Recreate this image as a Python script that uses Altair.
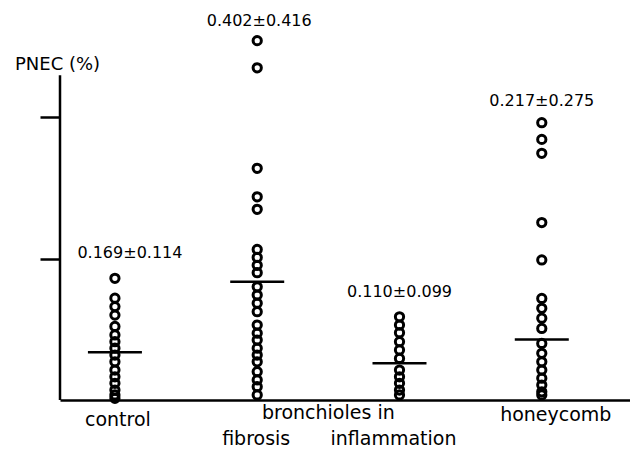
import altair as alt
import pandas as pd

# ---- data ----
groups = ["control", "fibrosis", "inflammation", "honeycomb"]
group_pos = [0, 1, 2, 3]

control_vals = [0.43, 0.36, 0.33, 0.30, 0.26, 0.23, 0.206, 0.183, 0.159, 0.135,
                0.106, 0.082, 0.059, 0.035, 0.018, 0.006]
fibrosis_vals = [1.27, 1.174, 0.819, 0.718, 0.674, 0.532, 0.504, 0.476, 0.450,
                 0.400, 0.371, 0.342, 0.312, 0.265, 0.236, 0.212, 0.183, 0.159,
                 0.135, 0.100, 0.071, 0.047, 0.018]
inflammation_vals = [0.294, 0.265, 0.238, 0.206, 0.177, 0.147, 0.106, 0.082,
                     0.059, 0.035, 0.018]
honeycomb_vals = [0.98, 0.921, 0.872, 0.627, 0.495, 0.359, 0.324, 0.289, 0.253,
                  0.200, 0.165, 0.135, 0.106, 0.077, 0.053, 0.029, 0.018]

mean_lines = [0.169, 0.418, 0.13, 0.214]
annotations = ["0.169\u00b10.114", "0.402\u00b10.416", "0.110\u00b10.099", "0.217\u00b10.275"]
annot_level = [0.52, 1.34, 0.38, 1.055]
y_ticks = [0.5, 1.0]
axis_top = 1.148

W, H = 570, 382
FONT = "DejaVu Sans"

rows = []
for g, p, vals in zip(groups, group_pos,
                      [control_vals, fibrosis_vals, inflammation_vals, honeycomb_vals]):
    for v in vals:
        rows.append({"group": g, "pos": p, "value": v})
pts = pd.DataFrame(rows)
means = pd.DataFrame({"group": groups, "pos": group_pos, "mean": mean_lines,
                      "label": annotations, "lv": annot_level})

xscale = alt.Scale(domain=[-0.386, 3.62], nice=False, zero=False)
yscale = alt.Scale(domain=[0, 1.35], nice=False)

base_x = alt.X("pos:Q", scale=xscale,
               axis=alt.Axis(title=None, labels=False, ticks=False, grid=False,
                             domain=True, domainColor="black", domainWidth=2.5))

points = alt.Chart(pts).mark_point(
    shape="circle", filled=False, color="black", size=68, strokeWidth=3, opacity=1
).encode(
    x=base_x,
    y=alt.Y("value:Q", scale=yscale,
            axis=alt.Axis(values=y_ticks, labels=False, domain=False, grid=False,
                          ticks=True, tickSize=20, tickWidth=2.5, tickColor="black",
                          title="PNEC (%)", titleAngle=0, titleAlign="center",
                          titleBaseline="middle", titleX=-3, titleY=46,
                          titleFont=FONT, titleFontSize=18, titleFontWeight="normal",
                          titleColor="black")),
)

ticks = alt.Chart(means).mark_tick(
    orient="horizontal", size=54, thickness=2.5, color="black", opacity=1
).encode(x=alt.X("pos:Q", scale=xscale), y=alt.Y("mean:Q", scale=yscale))

yaxis_line = alt.Chart(pd.DataFrame({"a": [0.0], "b": [axis_top]})).mark_rule(
    color="black", strokeWidth=2.5
).encode(x=alt.value(0), y=alt.Y("a:Q", scale=yscale), y2="b:Q")

annot_layers = []
annot_dx = [15, 2, 0, 0]
for i in range(4):
    annot_layers.append(
        alt.Chart(means.iloc[[i]]).mark_text(
            font=FONT, fontSize=16, color="black", align="center",
            baseline="middle", dx=annot_dx[i]
        ).encode(x=alt.X("pos:Q", scale=xscale), y=alt.Y("lv:Q", scale=yscale),
                 text="label:N")
    )

cat_labels = [("control", 0, 3, 20), ("bronchioles in", 1.5, 0, 13),
              ("honeycomb", 3, 14, 15), ("fibrosis", 1, -1, 39),
              ("inflammation", 2, -6, 39)]
label_layers = []
for txt, p, dx, dy in cat_labels:
    label_layers.append(
        alt.Chart(pd.DataFrame({"pos": [p], "t": [txt]})).mark_text(
            font=FONT, fontSize=19, color="black", align="center",
            baseline="middle", dx=dx
        ).encode(x=alt.X("pos:Q", scale=xscale), y=alt.value(H + dy), text="t:N")
    )

chart = alt.layer(yaxis_line, points, ticks, *annot_layers, *label_layers).properties(
    width=W, height=H,
    padding={"left": 52, "top": 10, "right": 0, "bottom": 50},
    autosize=alt.AutoSizeParams(type="none"),
    background="white",
).configure_view(stroke=None)

chart.save("out.html", embed_options={"renderer": "svg", "actions": False})
